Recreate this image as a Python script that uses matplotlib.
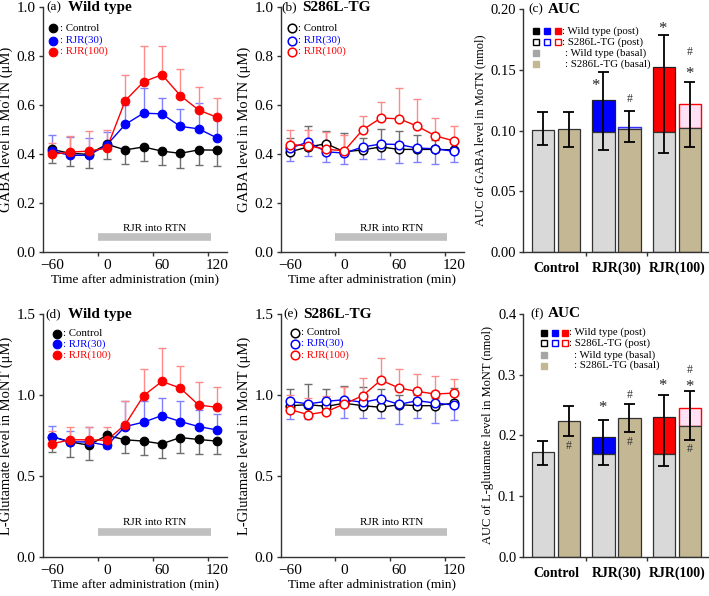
import matplotlib
matplotlib.use("Agg")
import matplotlib.pyplot as plt
import numpy as np

plt.rcParams['font.family'] = ['Liberation Serif', 'DejaVu Serif']

# ---------------- data ----------------
time = [-60, -40, -20, 0, 20, 40, 60, 80, 100, 120]

gaba_wt_ctrl = [0.420, 0.404, 0.400, 0.441, 0.418, 0.430, 0.413, 0.404, 0.418, 0.417]
gaba_wt_ctrl_err = [0.054, 0.052, 0.056, 0.059, 0.056, 0.057, 0.055, 0.060, 0.060, 0.065]
gaba_wt_30 = [0.413, 0.396, 0.396, 0.438, 0.522, 0.568, 0.565, 0.514, 0.504, 0.467]
gaba_wt_30_err = [0.064, 0.074, 0.071, 0.052, 0.078, 0.102, 0.065, 0.071, 0.104, 0.073]
gaba_wt_100 = [0.400, 0.409, 0.413, 0.425, 0.619, 0.696, 0.725, 0.640, 0.581, 0.551]
gaba_wt_100_err = [0.045, 0.066, 0.084, 0.075, 0.106, 0.147, 0.118, 0.110, 0.094, 0.079]

gaba_tg_ctrl = [0.410, 0.430, 0.443, 0.410, 0.418, 0.430, 0.420, 0.420, 0.420, 0.418]
gaba_tg_ctrl_err = [0.055, 0.087, 0.054, 0.077, 0.047, 0.075, 0.077, 0.060, 0.040, 0.032]
gaba_tg_30 = [0.425, 0.450, 0.410, 0.405, 0.430, 0.442, 0.440, 0.425, 0.423, 0.412]
gaba_tg_30_err = [0.053, 0.055, 0.042, 0.045, 0.050, 0.062, 0.075, 0.055, 0.063, 0.042]
gaba_tg_100 = [0.440, 0.435, 0.420, 0.415, 0.500, 0.548, 0.545, 0.515, 0.475, 0.455]
gaba_tg_100_err = [0.060, 0.065, 0.070, 0.065, 0.057, 0.067, 0.125, 0.110, 0.073, 0.060]

glu_wt_ctrl = [0.743, 0.710, 0.690, 0.750, 0.723, 0.715, 0.698, 0.737, 0.725, 0.715]
glu_wt_ctrl_err = [0.093, 0.094, 0.090, 0.080, 0.083, 0.085, 0.088, 0.097, 0.090, 0.080]
glu_wt_30 = [0.743, 0.710, 0.710, 0.688, 0.805, 0.832, 0.873, 0.836, 0.805, 0.784]
glu_wt_30_err = [0.067, 0.070, 0.090, 0.030, 0.155, 0.128, 0.107, 0.129, 0.105, 0.099]
glu_wt_100 = [0.698, 0.723, 0.723, 0.720, 0.817, 0.996, 1.084, 1.043, 0.938, 0.924]
glu_wt_100_err = [0.082, 0.077, 0.077, 0.085, 0.143, 0.164, 0.206, 0.137, 0.142, 0.126]

glu_tg_ctrl = [0.934, 0.940, 0.930, 0.949, 0.934, 0.924, 0.940, 0.934, 0.934, 0.950]
glu_tg_ctrl_err = [0.106, 0.125, 0.105, 0.106, 0.116, 0.116, 0.060, 0.066, 0.046, 0.095]
glu_tg_30 = [0.961, 0.945, 0.961, 0.971, 0.955, 0.977, 0.942, 0.965, 0.950, 0.938]
glu_tg_30_err = [0.111, 0.095, 0.081, 0.111, 0.095, 0.122, 0.122, 0.105, 0.120, 0.093]
glu_tg_100 = [0.910, 0.879, 0.897, 0.945, 0.996, 1.092, 1.043, 1.022, 1.006, 1.012]
glu_tg_100_err = [0.090, 0.101, 0.098, 0.105, 0.109, 0.138, 0.117, 0.108, 0.114, 0.088]

groups = ['Control', 'RJR(30)', 'RJR(100)']
series_labels = ['Control', 'RJR(30)', 'RJR(100)']

auc_gaba_wt_basal = [0.1005, 0.0989, 0.0989]
auc_gaba_wt_post = [0.1005, 0.1252, 0.1526]
auc_gaba_wt_basal_err = [0.0125, 0.0148, 0.0175]
auc_gaba_wt_post_err = [0.0148, 0.0233, 0.0260]
auc_gaba_tg_basal = [0.1016, 0.1011, 0.1025]
auc_gaba_tg_post = [0.1016, 0.1033, 0.1217]
auc_gaba_tg_basal_err = [0.0148, 0.0104, 0.0157]
auc_gaba_tg_post_err = [0.0137, 0.0129, 0.0186]

auc_glu_wt_basal = [0.173, 0.170, 0.170]
auc_glu_wt_post = [0.173, 0.197, 0.231]
auc_glu_wt_basal_err = [0.022, 0.019, 0.020]
auc_glu_wt_post_err = [0.018, 0.029, 0.036]
auc_glu_tg_basal = [0.224, 0.229, 0.216]
auc_glu_tg_post = [0.224, 0.229, 0.245]
auc_glu_tg_basal_err = [0.025, 0.024, 0.024]
auc_glu_tg_post_err = [0.025, 0.023, 0.028]

# significance marks: (group index, genotype, symbol, y)
gaba_marks = [(1, 'wt', '*', 0.137), (1, 'tg', '#', 0.126), (2, 'wt', '*', 0.184),
              (2, 'tg', '#', 0.165), (2, 'tg', '*', 0.147)]
glu_marks = [(1, 'wt', '*', 0.245), (1, 'tg', '#', 0.266), (2, 'wt', '*', 0.282),
             (2, 'tg', '#', 0.308), (2, 'tg', '*', 0.280),
             (0, 'tg', '#', 0.182), (1, 'tg', '#', 0.190), (2, 'tg', '#', 0.177)]

# ---------------- style ----------------
colors = ['black', '#0000ff', '#ff0000']
err_colors = ['#6e6e6e', '#8080ff', '#ff8a8a']
post_wt_colors = ['#d9d9d9', '#0000ff', '#ff0000']
post_tg_face = ['#c4b894', '#e4e4ff', '#ffe0f4']
post_tg_edge = ['#3a3a3a', '#3030ff', '#ff0000']
basal_wt = '#d9d9d9'
basal_tg = '#c4b894'
spine_col = '#333333'

fig = plt.figure(figsize=(7.09, 5.96), dpi=100)

def style_axes(ax, lsize):
    for s in ['top', 'right']:
        ax.spines[s].set_visible(False)
    for s in ['left', 'bottom']:
        ax.spines[s].set_color(spine_col)
        ax.spines[s].set_linewidth(1.0)
    ax.tick_params(axis='both', direction='out', color=spine_col, width=1.0, length=3,
                   labelsize=lsize, pad=2)

def titles(ax, letter, title, x1, x2):
    ax.text(x1, 1.0, letter, transform=ax.transAxes, ha='left', va='center', fontsize=9.5)
    ax.text(x2, 1.0, title, transform=ax.transAxes, ha='left', va='center',
            fontsize=11, fontweight='bold')

def line_panel(rect, series, errs, err_dirs, filled, ylim, yticks, yfmt, ylabel,
               letter, title, tx1, tx2, legx, legtx, legys, bar_y, text_y):
    ax = fig.add_axes(rect)
    style_axes(ax, 11)
    for i, (y, e) in enumerate(zip(series, errs)):
        e = np.asarray(e)
        z = np.zeros_like(e)
        yerr = [e, z] if err_dirs[i] == 'low' else [z, e]
        ax.errorbar(time, y, yerr=yerr, fmt='none', ecolor=err_colors[i], elinewidth=1.0,
                    capsize=2.8, capthick=1.0, zorder=2 + i)
    for i, y in enumerate(series):
        ax.plot(time, y, '-', color=colors[i], lw=1.0, zorder=5 + i)
        ax.plot(time, y, 'o', ms=6.2, mfc=(colors[i] if filled else 'white'),
                mec=colors[i], mew=(0.8 if filled else 1.1), zorder=8 + i, ls='none')
    ax.set_xlim(-70, 131)
    ax.set_ylim(*ylim)
    ax.set_xticks([-60, 0, 60, 120])
    ax.set_xticklabels(['\u221260', '0', '60', '120'])
    ax.tick_params(axis='x', which='major', length=0, pad=5)
    ax.set_xticks([-10, 50, 110], minor=True)
    ax.tick_params(axis='x', which='minor', direction='out', length=3, color=spine_col, width=1.0)
    ax.set_yticks(yticks)
    ax.set_yticklabels([yfmt.format(v) for v in yticks])
    ax.set_xlabel('Time after administration (min)', fontsize=9.5, labelpad=1)
    ax.set_ylabel(ylabel, fontsize=10.5, labelpad=3)
    ax.hlines(bar_y, -10, 113, colors='#c0c0c0', lw=5.5, zorder=1)
    ax.text(52, text_y, 'RJR into RTN', ha='center', va='center', fontsize=8)
    titles(ax, letter, title, tx1, tx2)
    for i, lab in enumerate(series_labels):
        ax.plot([legx], [legys[i]], 'o', ms=6.2, mfc=(colors[i] if filled else 'white'),
                mec=colors[i], mew=(0.8 if filled else 1.1), transform=ax.transAxes,
                clip_on=False)
        ax.text(legtx, legys[i], ': ' + lab, transform=ax.transAxes, ha='left',
                va='center', fontsize=7.8, color=colors[i])
    return ax

def bar_panel(rect, wt_b, wt_p, wt_be, wt_pe, tg_b, tg_p, tg_be, tg_pe, marks, mark_dx,
              ylim, yticks, yfmt, ylabel, letter, tx1, tx2, sqx, txt_post, txt_basal, legys):
    ax = fig.add_axes(rect)
    style_axes(ax, 10.5)
    x = np.arange(len(groups))
    w = 0.375
    off = 0.215
    cw = 0.09
    for i in range(len(groups)):
        xi = x[i] - off
        if wt_p[i] > wt_b[i]:
            ax.bar(xi, wt_p[i] - wt_b[i], w, bottom=wt_b[i], color=post_wt_colors[i],
                   edgecolor='#222222', lw=0.9, zorder=2)
        ax.bar(xi, wt_b[i], w, color=basal_wt, edgecolor='#333333', lw=0.9, zorder=2)
        ax.vlines(xi, wt_b[i] - wt_be[i], wt_p[i] + wt_pe[i], colors='black', lw=1.3, zorder=4)
        ax.hlines([wt_b[i] - wt_be[i], wt_p[i] + wt_pe[i]], xi - cw, xi + cw, colors='black',
                  lw=1.3, zorder=4)
        xt = x[i] + off
        if tg_p[i] > tg_b[i]:
            ax.bar(xt, tg_p[i] - tg_b[i], w, bottom=tg_b[i], color=post_tg_face[i],
                   edgecolor=post_tg_edge[i], lw=1.0, zorder=2)
        ax.bar(xt, tg_b[i], w, color=basal_tg, edgecolor='#333333', lw=0.9, zorder=2)
        ax.vlines(xt, tg_b[i] - tg_be[i], tg_p[i] + tg_pe[i], colors='black', lw=1.3, zorder=4)
        ax.hlines([tg_b[i] - tg_be[i], tg_p[i] + tg_pe[i]], xt - cw, xt + cw, colors='black',
                  lw=1.3, zorder=4)
    for (g, geno, sym, yv), dx in zip(marks, mark_dx):
        xm = x[g] + (-off if geno == 'wt' else off) + dx
        if sym == '*':
            ax.text(xm, yv, '*', ha='center', va='center', fontsize=12, color='#222222')
        else:
            ax.text(xm, yv, '#', ha='center', va='center', fontsize=8.5, color='#333333')
    ax.set_xlim(-0.54, 2.52)
    ax.set_ylim(*ylim)
    ax.set_xticks(x)
    ax.set_xticklabels(groups, fontweight='bold', fontsize=10)
    ax.tick_params(axis='x', which='major', length=0, pad=7)
    ax.set_xticks([0.5, 1.5], minor=True)
    ax.tick_params(axis='x', which='minor', direction='out', length=3, color=spine_col, width=1.0)
    ax.set_yticks(yticks)
    ax.set_yticklabels([yfmt.format(v) for v in yticks])
    ax.set_ylabel(ylabel, fontsize=9, labelpad=3)
    titles(ax, letter, 'AUC', tx1, tx2)
    for j in range(3):
        ax.plot([sqx[j]], [legys[0]], 's', ms=5, mfc=colors[j], mec=colors[j],
                transform=ax.transAxes, clip_on=False)
        ax.plot([sqx[j]], [legys[1]], 's', ms=5, mfc='white', mec=colors[j], mew=1.0,
                transform=ax.transAxes, clip_on=False)
    ax.plot([sqx[0]], [legys[2]], 's', ms=5, mfc='#a6a6a6', mec='#a6a6a6',
            transform=ax.transAxes, clip_on=False)
    ax.plot([sqx[0]], [legys[3]], 's', ms=5, mfc=basal_tg, mec=basal_tg,
            transform=ax.transAxes, clip_on=False)
    fs = 7.8
    ax.text(txt_post, legys[0], ': Wild type (post)', transform=ax.transAxes, fontsize=fs,
            ha='left', va='center')
    ax.text(txt_post, legys[1], ': S286L-TG (post)', transform=ax.transAxes, fontsize=fs,
            ha='left', va='center')
    ax.text(txt_basal, legys[2], ': Wild type (basal)', transform=ax.transAxes, fontsize=fs,
            ha='left', va='center')
    ax.text(txt_basal, legys[3], ': S286L-TG (basal)', transform=ax.transAxes, fontsize=fs,
            ha='left', va='center')
    return ax

# ---- top row ----
line_panel([0.0602, 0.5767, 0.260, 0.411],
           [gaba_wt_ctrl, gaba_wt_30, gaba_wt_100],
           [gaba_wt_ctrl_err, gaba_wt_30_err, gaba_wt_100_err],
           ['low', 'up', 'up'], True, (0, 1.0), [0.0, 0.2, 0.4, 0.6, 0.8, 1.0], '{:.1f}',
           'GABA level in MoTN (\u03bcM)', '(a)', 'Wild type', 0.02, 0.135,
           0.056, 0.092, [0.914, 0.864, 0.819], 0.061, 0.097)

line_panel([0.396, 0.5767, 0.258, 0.411],
           [gaba_tg_ctrl, gaba_tg_30, gaba_tg_100],
           [gaba_tg_ctrl_err, gaba_tg_30_err, gaba_tg_100_err],
           ['up', 'low', 'up'], False, (0, 1.0), [0.0, 0.2, 0.4, 0.6, 0.8, 1.0], '{:.1f}',
           'GABA level in MoTN (\u03bcM)', '(b)', 'S286L-TG', 0.005, 0.115,
           0.06, 0.093, [0.914, 0.864, 0.819], 0.061, 0.097)

bar_panel([0.738, 0.5767, 0.261, 0.408],
          auc_gaba_wt_basal, auc_gaba_wt_post, auc_gaba_wt_basal_err, auc_gaba_wt_post_err,
          auc_gaba_tg_basal, auc_gaba_tg_post, auc_gaba_tg_basal_err, auc_gaba_tg_post_err,
          gaba_marks, [-0.13, 0.0, -0.03, 0.0, 0.0],
          (0, 0.20), [0.0, 0.05, 0.10, 0.15, 0.20], '{:.2f}',
          'AUC of GABA level in MoTN (nmol)', '(c)', 0.027, 0.135,
          [0.069, 0.130, 0.186], 0.212, 0.228, [0.911, 0.866, 0.818, 0.774])

# ---- bottom row ----
line_panel([0.0602, 0.0659, 0.260, 0.407],
           [glu_wt_ctrl, glu_wt_30, glu_wt_100],
           [glu_wt_ctrl_err, glu_wt_30_err, glu_wt_100_err],
           ['low', 'up', 'up'], True, (0, 1.5), [0.0, 0.5, 1.0, 1.5], '{:.1f}',
           'L-Glutamate level in MoNT (\u03bcM)', '(d)', 'Wild type', 0.012, 0.14,
           0.076, 0.11, [0.920, 0.875, 0.830], 0.15, 0.21)

line_panel([0.396, 0.0659, 0.258, 0.407],
           [glu_tg_ctrl, glu_tg_30, glu_tg_100],
           [glu_tg_ctrl_err, glu_tg_30_err, glu_tg_100_err],
           ['up', 'low', 'up'], False, (0, 1.5), [0.0, 0.5, 1.0, 1.5], '{:.1f}',
           'L-Glutamate level in MoNT (\u03bcM)', '(e)', 'S286L-TG', 0.014, 0.12,
           0.078, 0.111, [0.923, 0.879, 0.831], 0.15, 0.21)

bar_panel([0.738, 0.0654, 0.261, 0.408],
          auc_glu_wt_basal, auc_glu_wt_post, auc_glu_wt_basal_err, auc_glu_wt_post_err,
          auc_glu_tg_basal, auc_glu_tg_post, auc_glu_tg_basal_err, auc_glu_tg_post_err,
          glu_marks, [-0.02, 0.0, -0.02, 0.0, 0.0, 0.0, 0.0, 0.0],
          (0, 0.40), [0.0, 0.1, 0.2, 0.3, 0.4], '{:.1f}',
          'AUC of L-glutamate level in MoNT (nmol)', '(f)', 0.037, 0.135,
          [0.112, 0.171, 0.226], 0.248, 0.275, [0.923, 0.879, 0.831, 0.787])

fig.savefig('out.png', dpi=100)
